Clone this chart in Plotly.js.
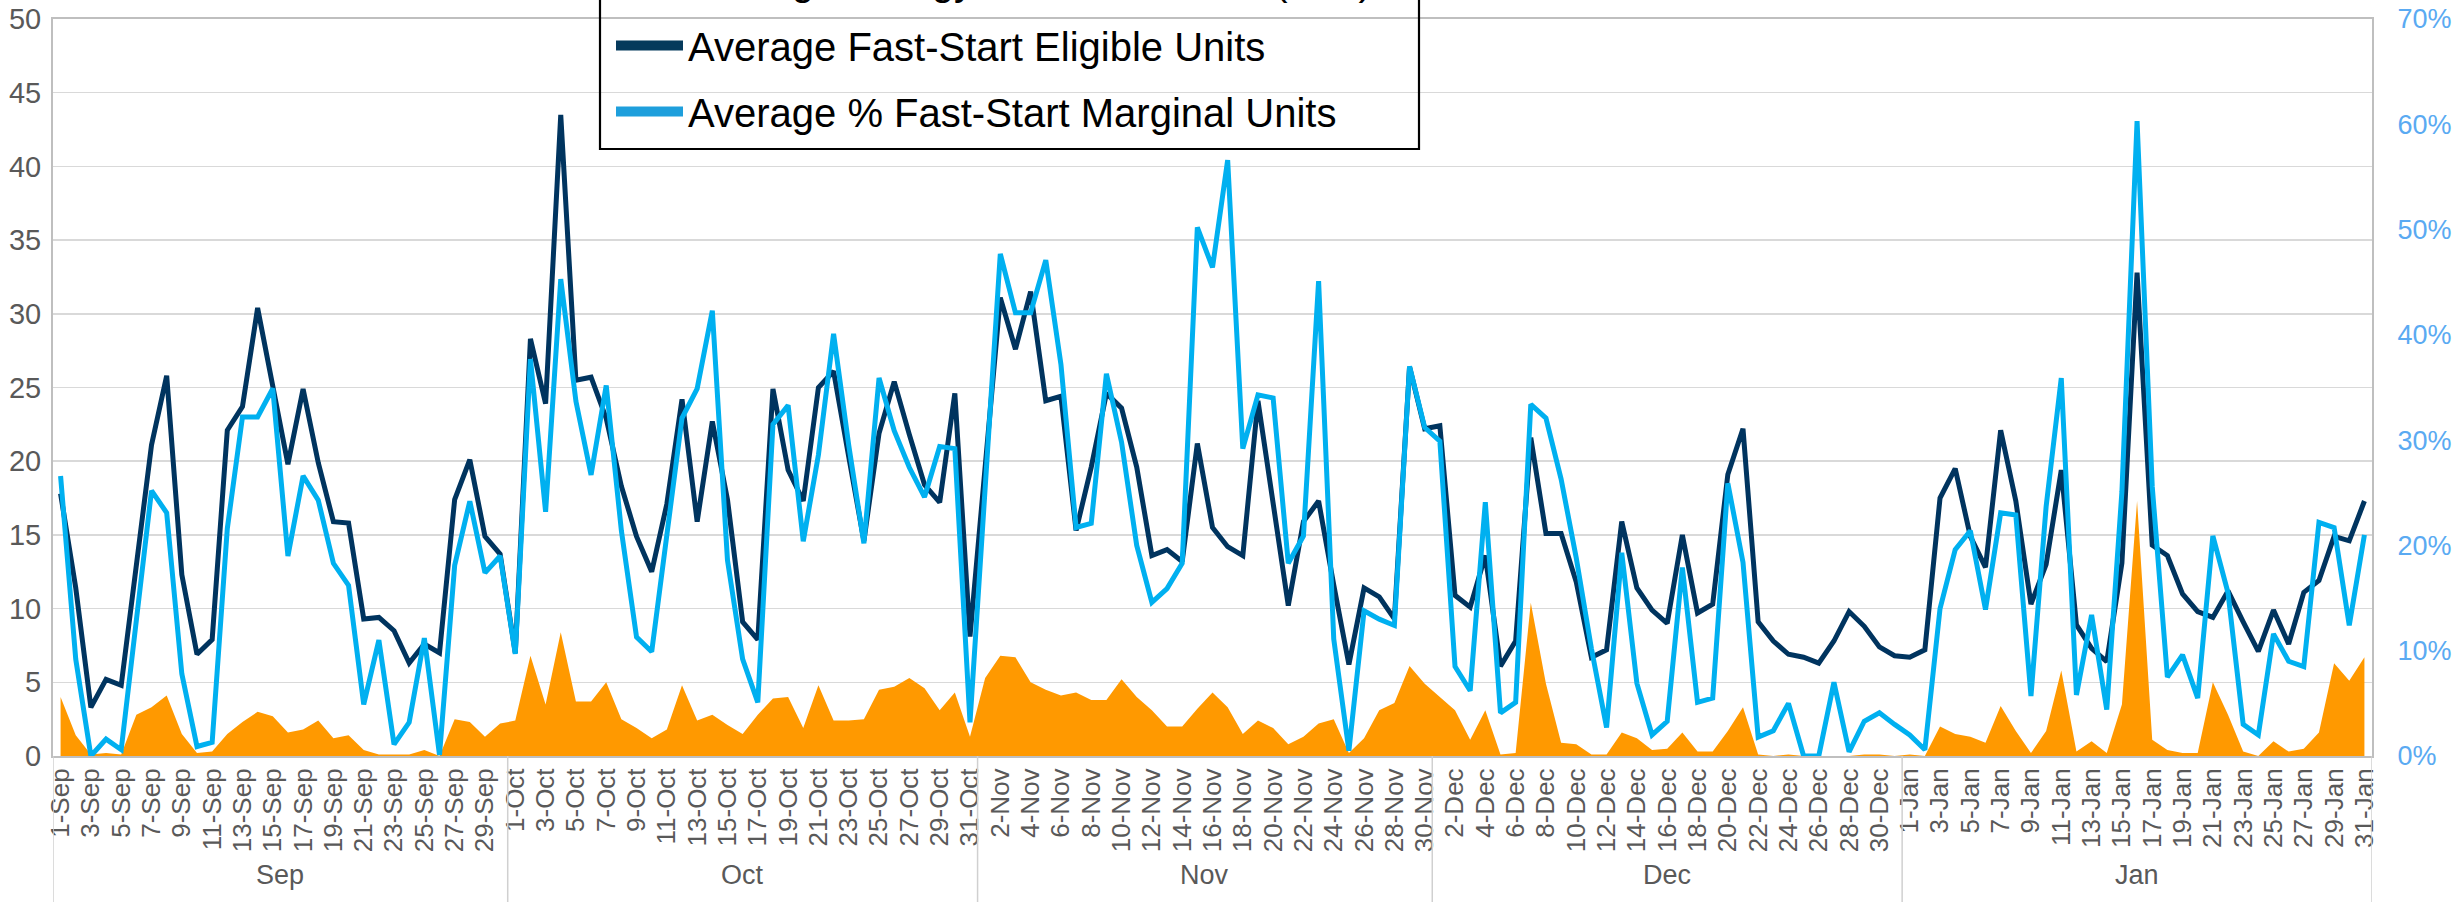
<!DOCTYPE html>
<html>
<head>
<meta charset="utf-8">
<script src="https://cdn.plot.ly/plotly-3.0.1.min.js"></script>
<style>html,body{margin:0;padding:0;background:#fff}#chart{width:2458px;height:902px}</style>
</head>
<body>
<div id="chart"></div>
<script>
const months = ['Sep','Oct','Nov','Dec','Jan'];
const monthDays = [30,31,30,31,31];

const eligibleUnits = [
17.8,11.4,3.3,5.2,4.8,12.9,21.1,25.8,12.3,6.9,
7.9,22.1,23.7,30.4,25.3,19.8,24.9,19.9,15.9,15.8,
9.3,9.4,8.5,6.3,7.6,7.0,17.4,20.1,14.9,13.7,
7.0,28.3,23.9,43.5,25.5,25.7,22.9,18.3,14.9,12.5,
17.1,24.2,15.9,22.7,17.4,9.1,7.9,24.9,19.4,17.3,
25.0,26.1,20.3,14.6,21.9,25.4,21.8,18.4,17.2,24.6,
8.1,19.6,31.1,27.6,31.5,24.1,24.4,15.3,19.6,24.6,
23.6,19.6,13.6,14.0,13.2,21.2,15.5,14.2,13.6,24.1,
17.3,10.2,15.9,17.3,11.6,6.2,11.4,10.8,9.3,26.4,
22.2,22.4,10.9,10.1,13.6,6.1,7.8,21.6,15.1,15.1,
11.8,6.7,7.2,15.9,11.4,9.9,9.0,15.0,9.7,10.3,
19.1,22.2,9.1,7.8,6.9,6.7,6.3,7.8,9.8,8.8,
7.4,6.8,6.7,7.2,17.5,19.5,14.9,12.8,22.1,17.3,
10.3,13.0,19.4,8.9,7.3,6.4,13.1,32.8,14.3,13.6,
11.0,9.8,9.4,11.2,9.1,7.1,9.9,7.6,11.1,11.9,
14.9,14.6,17.3
];

const marginalPct = [
26.6,9.2,0.0,1.6,0.6,12.5,25.2,23.1,7.8,0.9,
1.3,21.6,32.2,32.2,34.9,19.0,26.6,24.3,18.3,16.2,
4.9,11.0,1.1,3.2,11.2,0.1,18.1,24.2,17.4,19.0,
9.7,37.7,23.2,45.3,33.7,26.7,35.2,21.4,11.3,9.9,
21.4,32.1,34.9,42.3,18.6,9.2,5.1,31.5,33.3,20.4,
28.6,40.1,29.5,20.2,35.9,30.9,27.4,24.6,29.4,29.2,
3.2,25.1,47.7,42.1,42.1,47.1,37.2,21.7,22.1,36.3,
29.8,20.0,14.6,15.9,18.3,50.2,46.4,56.6,29.2,34.3,
34.0,18.3,20.9,45.1,11.1,0.5,13.8,13.0,12.4,37.0,
31.2,29.9,8.5,6.2,24.1,4.1,5.1,33.4,32.1,26.3,
18.8,10.2,2.7,19.3,6.9,2.0,3.3,17.9,5.1,5.5,
25.9,18.4,1.8,2.4,5.0,0.0,0.0,7.0,0.4,3.3,
4.1,3.0,2.0,0.6,14.0,19.6,21.4,13.9,23.1,22.9,
5.7,23.7,35.9,5.8,13.4,4.4,25.1,60.3,25.6,7.5,
9.6,5.5,20.9,15.5,3.0,2.0,11.6,9.0,8.5,22.2,
21.7,12.4,21.0
];

const energy = [
4.0,1.4,0.1,0.2,0.1,2.8,3.3,4.1,1.5,0.2,
0.3,1.5,2.3,3.0,2.7,1.6,1.8,2.4,1.2,1.4,
0.4,0.1,0.1,0.1,0.4,0.0,2.5,2.3,1.3,2.2,
2.4,6.8,3.5,8.4,3.7,3.7,5.0,2.5,1.9,1.2,
1.8,4.8,2.4,2.8,2.1,1.5,2.8,3.9,4.0,1.9,
4.8,2.4,2.4,2.5,4.5,4.7,5.3,4.6,3.1,4.3,
1.3,5.3,6.8,6.7,5.0,4.5,4.1,4.3,3.8,3.8,
5.2,4.0,3.1,2.0,2.0,3.2,4.3,3.3,1.5,2.4,
1.9,0.8,1.3,2.2,2.5,0.2,1.2,3.1,3.6,6.1,
4.9,4.0,3.1,1.1,3.1,0.1,0.2,10.4,4.9,0.9,
0.8,0.1,0.1,1.6,1.2,0.4,0.5,1.6,0.3,0.3,
1.7,3.3,0.1,0.0,0.1,0.0,0.0,0.0,0.0,0.1,
0.1,0.0,0.1,0.0,2.0,1.5,1.3,0.9,3.4,1.7,
0.2,1.7,5.8,0.3,1.0,0.2,3.5,17.3,1.1,0.4,
0.2,0.2,5.0,2.8,0.3,0.0,1.0,0.3,0.5,1.6,
6.3,5.1,6.7
];

const seriesNames = [
  'Average Energy Fast-Start Units (MW)',
  'Average Fast-Start Eligible Units',
  'Average % Fast-Start Marginal Units'
];
const seriesColors = ['#FF9900', '#00345F', '#00B0F0'];
const legendColors = ['#FF9900', '#053A5C', '#1E9FDC'];

// day labels
const dayLabels = [];
months.forEach((m, k) => { for (let d = 1; d <= monthDays[k]; d++) dayLabels.push(d + '-' + m); });
const tickLabels = dayLabels.filter((_, i) => i % 2 === 0);

const FONT = 'Liberation Sans, Arial, sans-serif';
const traces = [
  {x: dayLabels, y: energy, name: seriesNames[0], type: 'scatter', mode: 'lines',
   fill: 'tozeroy', fillcolor: seriesColors[0], line: {width: 0, color: seriesColors[0]},
   showlegend: false, hoverinfo: 'skip'},
  {x: dayLabels, y: eligibleUnits, name: seriesNames[1], type: 'scatter', mode: 'lines',
   line: {width: 5, color: seriesColors[1]}, showlegend: false},
  {x: dayLabels, y: marginalPct, name: seriesNames[2], type: 'scatter', mode: 'lines',
   yaxis: 'y2', line: {width: 5, color: seriesColors[2]}, showlegend: false},
  // legend swatches only (a single empty point each, nothing drawn in the plot)
  {x: [dayLabels[0]], y: [null], name: seriesNames[0], type: 'scatter', mode: 'lines', fill: 'tozeroy',
   fillcolor: legendColors[0], line: {width: 0, color: legendColors[0]}, legendgroup: 'a', hoverinfo: 'skip'},
  {x: [dayLabels[0]], y: [null], name: seriesNames[1], type: 'scatter', mode: 'lines',
   line: {width: 14, color: legendColors[1]}, legendgroup: 'b', hoverinfo: 'skip'},
  {x: [dayLabels[0]], y: [null], name: seriesNames[2], type: 'scatter', mode: 'lines', yaxis: 'y2',
   line: {width: 14, color: legendColors[2]}, legendgroup: 'c', hoverinfo: 'skip'}
];

const W = 2458, H = 902, mL = 53, mR = 86, mT = 19, mB = 146;
const plotW = W - mL - mR, plotH = H - mT - mB;
const yBottom = -(mB) / plotH;

// month dividers and labels
const shapes = [];
const annotations = [];
let start = 0;
shapes.push({type: 'line', xref: 'x', yref: 'paper', x0: -0.5, x1: -0.5, y0: 0, y1: yBottom, line: {color: '#D0D0D0', width: 1.5}});
months.forEach((m, k) => {
  const end = start + monthDays[k];
  shapes.push({type: 'line', xref: 'x', yref: 'paper', x0: end - 0.5, x1: end - 0.5, y0: 0, y1: yBottom, line: {color: '#D0D0D0', width: 1.5}});
  annotations.push({xref: 'x', yref: 'paper', x: (start + end - 1) / 2, y: -(875 - (H - mB)) / plotH,
    text: m, showarrow: false, font: {family: FONT, size: 27, color: '#595959'}, xanchor: 'center', yanchor: 'middle'});
  start = end;
});
// legend frame
shapes.push({type: 'rect', xref: 'paper', yref: 'paper',
  x0: (600 - mL) / plotW, x1: (1419 - mL) / plotW,
  y0: ((H - mB) - 149) / plotH, y1: 1.2,
  line: {color: '#000000', width: 2.2}, fillcolor: 'rgba(0,0,0,0)', layer: 'above'});

const layout = {
  width: W, height: H,
  margin: {l: mL, r: mR, t: mT, b: mB, pad: 0, autoexpand: false},
  paper_bgcolor: '#FFFFFF', plot_bgcolor: '#FFFFFF',
  font: {family: FONT, color: '#595959'},
  showlegend: true,
  legend: {
    x: (611 - mL) / plotW, xanchor: 'left',
    y: ((H - mB) - 144) / plotH, yanchor: 'bottom',
    bgcolor: 'rgba(0,0,0,0)', borderwidth: 0,
    font: {family: FONT, size: 40, color: '#000000'},
    traceorder: 'grouped', tracegroupgap: 11, itemwidth: 67
  },
  xaxis: {
    type: 'category', range: [-0.5, dayLabels.length - 0.5],
    tickmode: 'array', tickvals: tickLabels, ticktext: tickLabels,
    tickangle: -90, tickfont: {family: FONT, size: 26, color: '#595959'},
    ticks: '', showgrid: false, showline: true, linecolor: '#BFBFBF', linewidth: 2,
    mirror: true, zeroline: false, fixedrange: true
  },
  yaxis: {
    range: [0, 50], dtick: 5, tick0: 0,
    tickfont: {family: FONT, size: 29, color: '#595959'},
    showgrid: true, gridcolor: '#D9D9D9', gridwidth: 1.5,
    showline: true, linecolor: '#BFBFBF', linewidth: 2,
    zeroline: false, ticks: '', ticklabelstandoff: 4
  },
  yaxis2: {
    overlaying: 'y', side: 'right', range: [0, 70], dtick: 10, tick0: 0,
    ticksuffix: '%', tickfont: {family: FONT, size: 27, color: '#5AAAF2'},
    showgrid: false, showline: true, linecolor: '#BFBFBF', linewidth: 2,
    zeroline: false, ticks: '', ticklabelstandoff: 18
  },
  shapes: shapes,
  annotations: annotations
};

Plotly.newPlot('chart', traces, layout, {displayModeBar: false, staticPlot: true});
</script>
</body>
</html>
